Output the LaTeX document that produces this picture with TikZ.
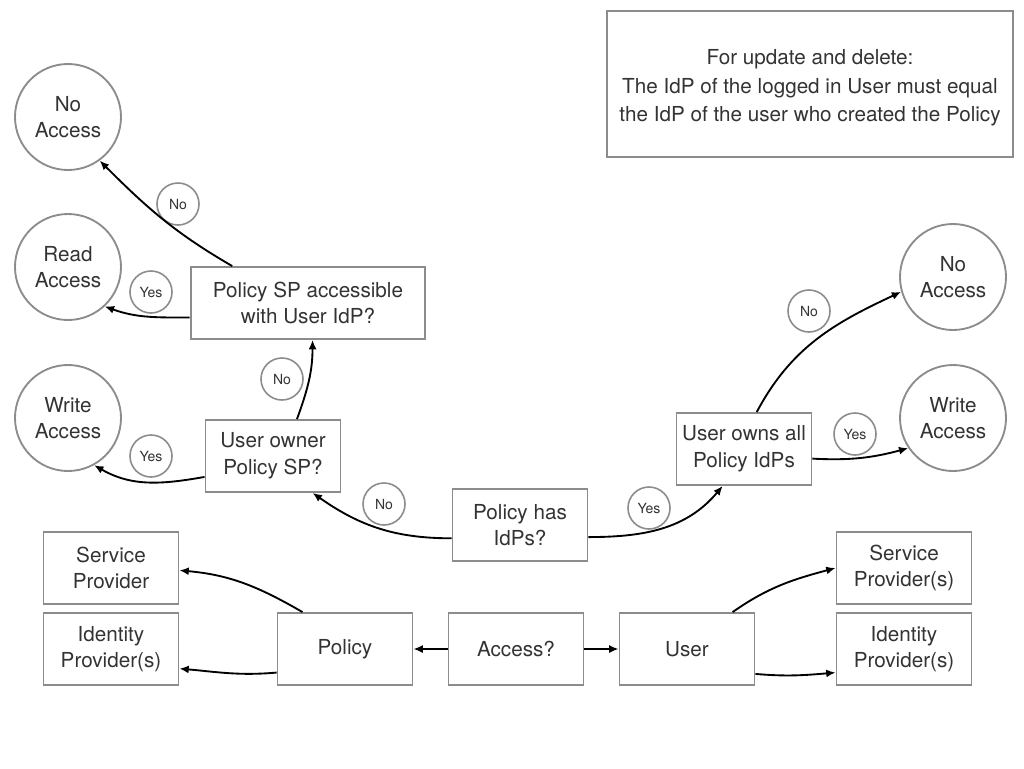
\documentclass[tikz,border=0pt]{standalone}
\usepackage{fontspec}
\setmainfont{TeX Gyre Heros}
\usetikzlibrary{arrows.meta}
\usetikzlibrary{positioning}

\begin{document}
\begin{tikzpicture}[x=0.75pt,y=-0.75pt,
	font=\fontsize{15.5}{20}\selectfont, text=black!80,
	box/.style={draw=black!45, line width=1.4pt, align=center, inner sep=0pt,
		minimum width=101.25pt, minimum height=54pt},
	outcome/.style={circle, draw=black!45, line width=1.4pt, align=center, inner sep=0pt,
		minimum size=79.5pt},
	answer/.style={circle, draw=black!45, line width=1.2pt, inner sep=0pt,
		minimum size=31.5pt, font=\fontsize{10.5}{12}\selectfont},
	arr/.style={-{Latex[length=7pt,width=6pt]}, line width=1.4pt, black}]
	\useasboundingbox (0,0) rectangle (1024,768);
	% note
	\node[box, minimum width=304.5pt, minimum height=110pt] (note) at (810,84){};
	\node[align=center, font=\fontsize{15.5}{21.4}\selectfont] (notetext) at (810,88)
		{For update and delete:\\The IdP of the logged in User must equal\\the IdP of the user who created the Policy};
	% outcomes
	\node[outcome] (noL) at (68,117){No\\Access};
	\node[outcome] (readL) at (68,267){Read\\Access};
	\node[outcome] (writeL) at (68,418){Write\\Access};
	\node[outcome] (noR) at (953,277){No\\Access};
	\node[outcome] (writeR) at (953,418){Write\\Access};
	% questions
	\node[box, minimum width=176pt] (psp) at (308,303){Policy SP accessible\\with User IdP?};
	\node[box] (owner) at (273,456){User owner\\Policy SP?};
	\node[box] (hasidp) at (520,525){Policy has\\IdPs?};
	\node[box] (ownsall) at (744,449){User owns all\\Policy IdPs};
	% entities
	\node[box] (spL) at (111,568){Service\\Provider};
	\node[box] (idpL) at (111,649){Identity\\Provider(s)};
	\node[box] (policy) at (345,649){Policy};
	\node[box] (access) at (516,649){Access?};
	\node[box] (user) at (687,649){User};
	\node[box] (spR) at (904,568){Service\\Provider(s)};
	\node[box] (idpR) at (904,649){Identity\\Provider(s)};
	% yes / no
	\node[answer] (a1) at (178,204){No};
	\node[answer] (a2) at (151,292){Yes};
	\node[answer] (a3) at (282,379){No};
	\node[answer] (a4) at (151,456){Yes};
	\node[answer] (a5) at (384,504){No};
	\node[answer] (a6) at (649,508){Yes};
	\node[answer] (a7) at (809,311){No};
	\node[answer] (a8) at (855,434){Yes};
	% arrows
	\draw[arr] (psp.154) to[out=150,in=-45] (noL.-54);
	\draw[arr] (psp.187) to[out=180,in=-20] (readL.-47);
	\draw[arr] (owner.57) to[out=70,in=-90] (psp.-83);
	\draw[arr] (owner.197) to[out=190,in=-30] (writeL.-61);
	\draw[arr] (hasidp.191) to[out=180,in=-35] (owner.-43);
	\draw[arr] (hasidp.-10) to[out=0,in=-130] (ownsall.-120);
	\draw[arr] (ownsall.71) to[out=62,in=205] (noR.196);
	\draw[arr] (ownsall.-8) to[out=-3,in=195] (writeR.214);
	\draw[arr] (access) -- (policy);
	\draw[arr] (access) -- (user);
	\draw[arr] (policy.139) to[out=150,in=-5] (spL.-2);
	\draw[arr] (policy.199) to[out=185,in=-5] (idpL.-16);
	\draw[arr] (user.39) to[out=35,in=195] (spR.west);
	\draw[arr] (user.-20) to[out=-5,in=185] (idpR.199);
\end{tikzpicture}
\end{document}
